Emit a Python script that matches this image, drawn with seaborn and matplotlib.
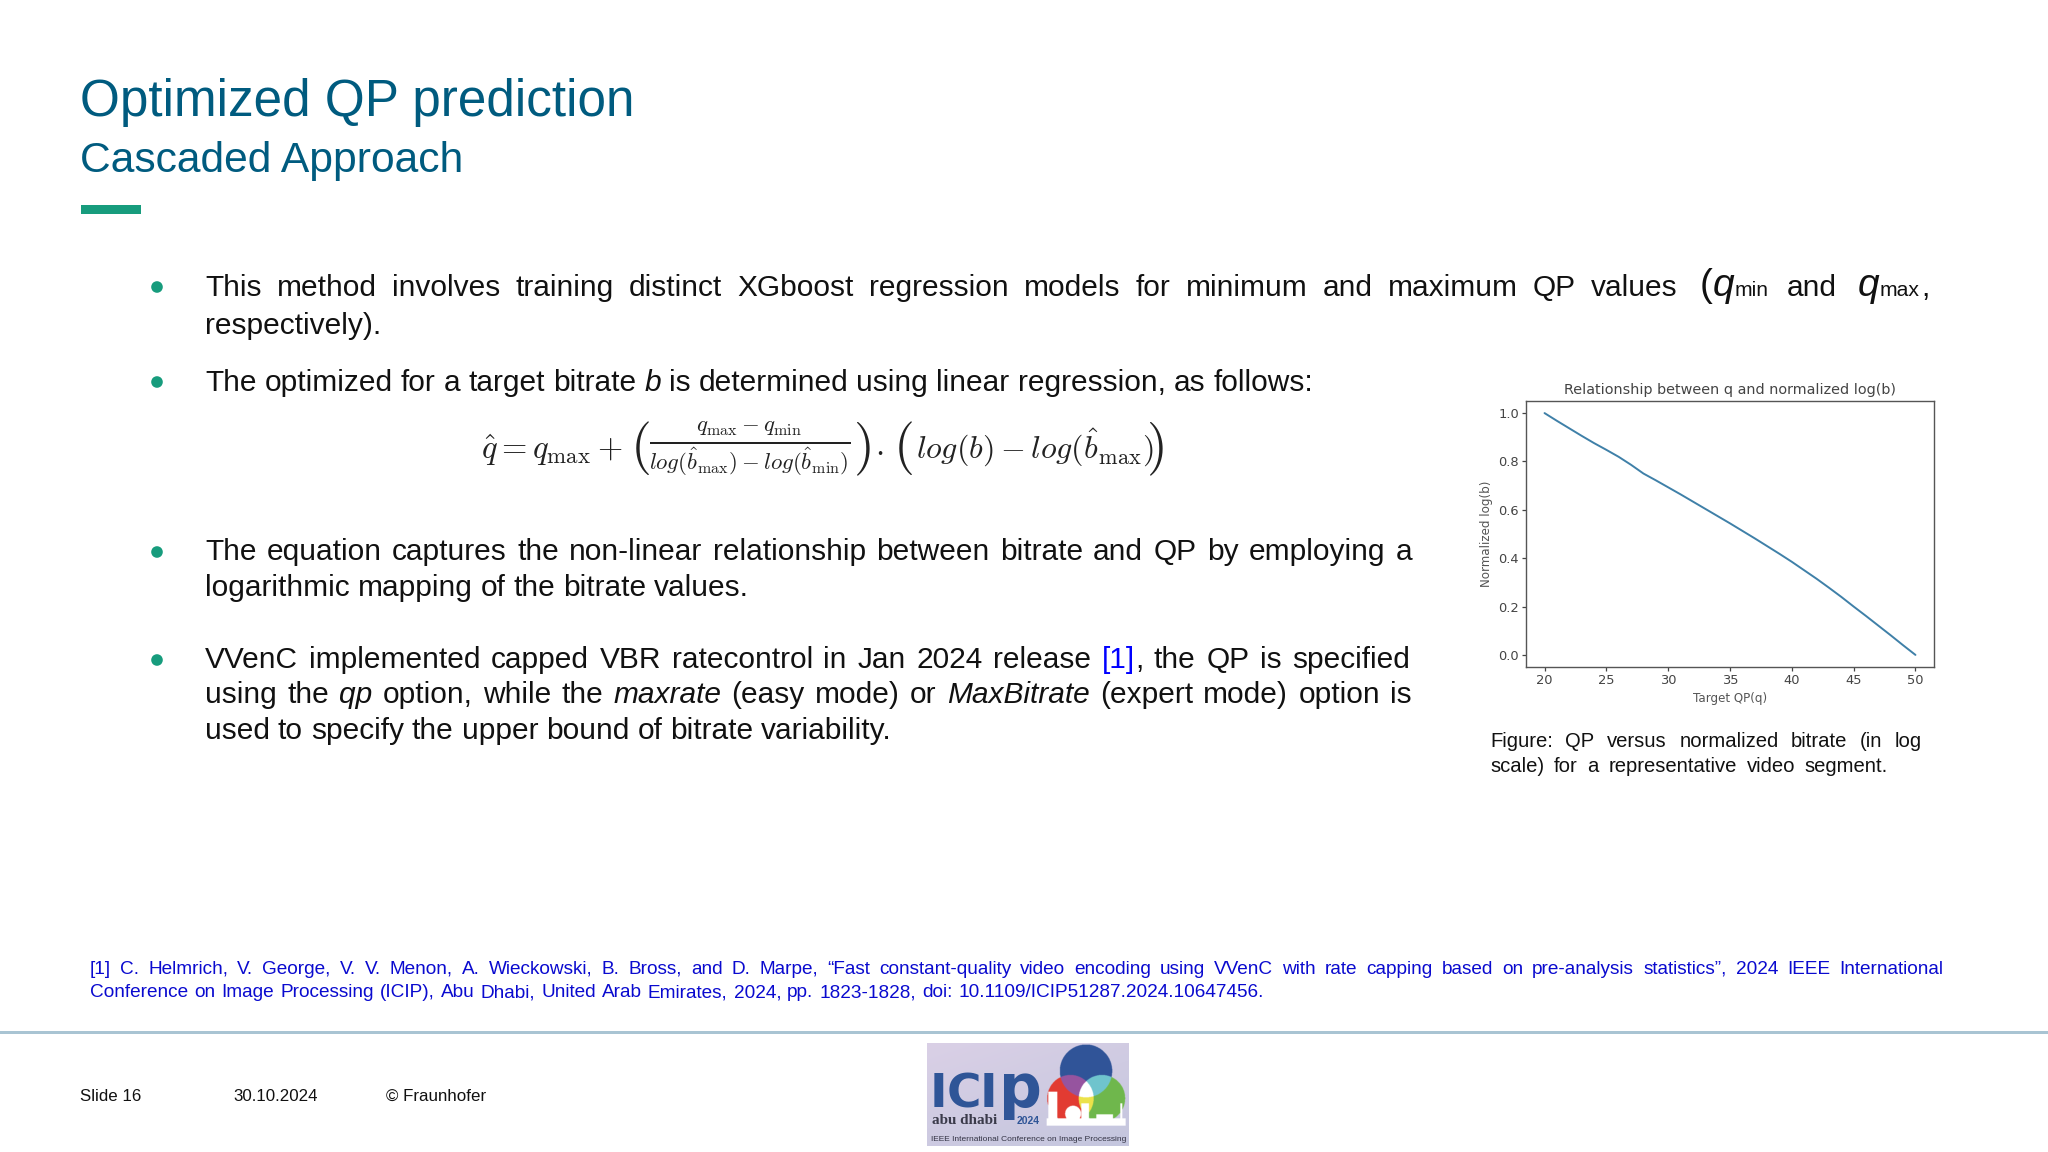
import numpy as np
import pandas as pd
import matplotlib
matplotlib.use("Agg")
import matplotlib.pyplot as plt
import seaborn as sns

# ---- chart data ----
target_qp = [20, 21, 22, 23, 24, 25, 26, 27, 28, 29, 30, 31, 32, 33, 34, 35,
             36, 37, 38, 39, 40, 41, 42, 43, 44, 45, 46, 47, 48, 49, 50]
norm_log_b = [1.0, 0.968, 0.937, 0.906, 0.876, 0.848, 0.819, 0.786, 0.75, 0.722, 0.693,
              0.664, 0.634, 0.604, 0.574, 0.544, 0.513, 0.482, 0.450, 0.418, 0.385,
              0.350, 0.315, 0.278, 0.240, 0.200, 0.161, 0.121, 0.081, 0.040, 0.0]
x_ticks = [20, 25, 30, 35, 40, 45, 50]
y_ticks = [0.0, 0.2, 0.4, 0.6, 0.8, 1.0]

chart_title = "Relationship between q and normalized log(b)"
x_label = "Target QP(q)"
y_label = "Normalized log(b)"

TITLE = "Optimized QP prediction"
SUBTITLE = "Cascaded Approach"
FOOTER = ["Slide 16", "30.10.2024", "© Fraunhofer"]

FONT = "Liberation Sans"
TEAL = "#005B7F"
GREEN = "#179C7D"
BODY = "#111111"
LINKBLUE = "#0000FF"
REFBLUE = "#0A0ACF"

sns.set_theme(style="ticks")
plt.rcParams["mathtext.fontset"] = "cm"

fig = plt.figure(figsize=(20.48, 11.52), dpi=100, facecolor="white")
page = fig.add_axes([0, 0, 1, 1], zorder=0)
page.axis("off")
renderer = fig.canvas.get_renderer()


def T(x, y, s, size, color=BODY, **kw):
    kw.setdefault("family", FONT)
    kw.setdefault("va", "baseline")
    return page.text(x, y, s, fontsize=size, color=color, **kw)


def width(s, size, **kw):
    t = T(0, 0, s, size, **kw)
    w = t.get_window_extent(renderer).width
    t.remove()
    return w


def fitted(s, size, target, **kw):
    return size * target / width(s, size, **kw)


def line(words, x0, y, x1, size, color=BODY):
    """Draw words from x0 so that the line ends at x1 (evenly spread gaps)."""
    norm = []
    for w in words:
        runs = [(w, {})] if isinstance(w, str) else w
        norm.append(runs)

    def run_w(r):
        kw = dict(r[1])
        sz = kw.pop("size", size)
        kw.pop("color", None)
        return width(r[0], sz, **kw)

    widths = [sum(run_w(r) for r in runs) for runs in norm]
    gap = (x1 - x0 - sum(widths)) / max(len(norm) - 1, 1)
    x = x0
    for runs, wd in zip(norm, widths):
        for r in runs:
            kw = dict(r[1])
            sz = kw.pop("size", size)
            col = kw.pop("color", color)
            T(x, y, r[0], sz, col, **kw)
            x += run_w(r)
        x += gap


def words(s):
    return s.split(" ")


IT = {"style": "italic"}
SZ = 21.5

# ---- header ----
T(80.5, 116, TITLE, fitted(TITLE, 37, 554), TEAL)
T(80.5, 172, SUBTITLE, fitted(SUBTITLE, 30, 384), TEAL)
page.add_patch(plt.Rectangle((80.5, 205), 60, 9, color=GREEN, lw=0))

# ---- bullets ----
for by in (287, 382, 552, 660):
    page.add_patch(plt.Circle((157, by), 5.8, color=GREEN, lw=0))

line(words("This method involves training distinct XGboost regression models for minimum and maximum QP values"),
     205, 296, 1678, SZ)
T(1700, 296, "(", 28)
T(1713, 296, "q", 28, style="italic")
T(1735, 296, "min", 15.2)
T(1787, 296, "and", SZ)
T(1858, 296, "q", 28, style="italic")
T(1880, 296, "max", 15.2)
T(1921, 296, ",", SZ)
line(["respectively)."], 205, 334, 381, SZ)
line(words("The optimized for a target bitrate") + [[("b", IT)]]
     + words("is determined using linear regression, as follows:"), 205, 391, 1313, SZ)
line(words("The equation captures the non-linear relationship between bitrate and QP by employing a"),
     205, 560, 1412, SZ)
line(words("logarithmic mapping of the bitrate values."), 205, 596, 749, SZ)
line(words("VVenC implemented capped VBR ratecontrol in Jan 2024 release")
     + [[("[1]", {"color": LINKBLUE}), (",", {})]]
     + words("the QP is specified"), 205, 668, 1410, SZ)
line(words("using the") + [[("qp", IT)]] + words("option, while the") + [[("maxrate", IT)]]
     + words("(easy mode) or") + [[("MaxBitrate", IT)]] + words("(expert mode) option is"),
     205, 703, 1412, SZ)
line(words("used to specify the upper bound of bitrate variability."), 205, 739, 892, SZ)

# ---- equation ----
EQ = "#222222"
def M(x, y, s, size, **kw):
    return page.text(x, y, s, fontsize=size, color=EQ, **kw)

M(481, 459, r"$\hat{q}=q_{\mathrm{max}}+$", 23.5, va="baseline")
M(630, 462, r"$($", 38.5, va="baseline")
M(750, 449, r"$\frac{q_{\mathrm{max}}-q_{\mathrm{min}}}{log(\hat{b}_{\mathrm{max}})-log(\hat{b}_{\mathrm{min}})}$",
  23.5, va="center", ha="center")
M(853, 462, r"$)$", 38.5, va="baseline")
M(875, 459, r"$\cdot$", 23.5, va="baseline")
M(893, 462, r"$($", 38.5, va="baseline")
M(916, 459, r"$log(b)-log(\hat{b}_{\mathrm{max}})$", 23, va="baseline")
M(1146, 462, r"$)$", 38.5, va="baseline")

# ---- chart ----
ax = fig.add_axes([1526 / 2048, 1 - 667 / 1152, 408 / 2048, 266 / 1152], zorder=2)
df = pd.DataFrame({"qp": target_qp, "b": norm_log_b})
sns.lineplot(data=df, x="qp", y="b", ax=ax, color="#3F80A8", lw=1.4)
ax.set_xticks(x_ticks)
ax.set_yticks(y_ticks)
ax.set_xlabel(x_label, fontsize=8.6, color="#555555", labelpad=3.5, family="DejaVu Sans")
ax.set_ylabel(y_label, fontsize=8.6, color="#555555", labelpad=3.5, family="DejaVu Sans")
ax.set_title(chart_title, fontsize=10.4, color="#444444", pad=5, family="DejaVu Sans")
ax.tick_params(labelsize=9.4, colors="#444444", length=2.6, width=0.9, pad=2.5)
for lab in ax.get_xticklabels() + ax.get_yticklabels():
    lab.set_family("DejaVu Sans")
for sp in ax.spines.values():
    sp.set_visible(True)
    sp.set_color("#555555")
    sp.set_linewidth(1.0)

# ---- caption ----
line(words("Figure: QP versus normalized bitrate (in log"), 1490, 747, 1922, 14.6)
line(words("scale) for a representative video segment."), 1490, 772, 1888, 14.6)

# ---- reference ----
line(words("[1] C. Helmrich, V. George, V. V. Menon, A. Wieckowski, B. Bross, and D. Marpe, “Fast constant-quality video encoding using VVenC with rate capping based on pre-analysis statistics”, 2024 IEEE International"),
     90, 974, 1943, 13.7, REFBLUE)
line(words("Conference on Image Processing (ICIP), Abu Dhabi, United Arab Emirates, 2024, pp. 1823-1828, doi: 10.1109/ICIP51287.2024.10647456."),
     90, 997, 1264, 13.7, REFBLUE)

# ---- footer ----
page.add_patch(plt.Rectangle((0, 1030.5), 2048, 3, color="#A9C4D3", lw=0))
for fx, ft in zip((80.5, 233, 386), FOOTER):
    T(fx, 1101, ft, 12.2, "#111111")

# ---- logo ----
lx0, lx1, ly0, ly1 = 927, 1129, 1043, 1146
xx, yy = np.meshgrid(np.linspace(20, 628, 606), np.linspace(25, 332, 309))  # crop coords
gx = (xx - 20) / 608
top = np.array([218, 208, 230]) / 255
bot = np.array([196, 198, 222]) / 255
mix = np.clip(((yy - 25) / 307 * 0.6 + gx * 0.4), 0, 1)[..., None]
img = top * (1 - mix) + bot * mix
B = (xx - 499) ** 2 + (yy - 108) ** 2 < 79 ** 2
R = (xx - 452) ** 2 + (yy - 190) ** 2 < 70 ** 2
G = (xx - 547) ** 2 + (yy - 190) ** 2 < 70 ** 2
cut = yy < 272
img[B] = np.array([48, 84, 152]) / 255
img[R & cut] = np.array([226, 60, 50]) / 255
img[G & cut] = np.array([112, 184, 76]) / 255
img[B & R] = np.array([150, 84, 160]) / 255
img[B & G] = np.array([112, 196, 206]) / 255
img[R & G & cut] = np.array([236, 226, 74]) / 255
img[B & R & G] = np.array([255, 255, 255])
sky = (((yy > 250) & (yy < 272) & (xx > 380) & (xx < 618))
       | ((xx > 385) & (xx < 412) & (yy > 170) & (yy < 272))
       | ((xx - 460) ** 2 + (yy - 236) ** 2 < 24 ** 2)
       | ((xx > 485) & (xx < 508) & (yy > 205) & (yy < 272))
       | ((xx > 530) & (xx < 580) & (yy > 238) & (yy < 272))
       | ((xx > 602) & (xx < 608) & (yy > 205) & (yy < 272)))
img[sky] = 1.0
page.imshow(img, extent=(lx0, lx1, ly1, ly0), aspect="auto", interpolation="bilinear", zorder=1)
LB = "#2F5597"
for lx, ls, lz in ((930, "I", 47), (947, "C", 47), (980, "I", 47), (999, "p", 60)):
    T(lx, 1107, ls, lz * 0.72, LB, family="DejaVu Sans", fontweight="bold", zorder=3)
T(932, 1124, "abu dhabi", fitted("abu dhabi", 12, 65, family="Liberation Serif", fontweight="bold"),
  "#3A3A4A", family="Liberation Serif", fontweight="bold", zorder=3)
T(1017, 1124, "2024", 7.5, LB, fontweight="bold", zorder=3)
cap = "IEEE International Conference on Image Processing"
T(931, 1141, cap, fitted(cap, 8, 196), "#333344", zorder=3)

page.set_xlim(0, 2048)
page.set_ylim(1152, 0)

fig.savefig("out.png", dpi=100, facecolor="white")
